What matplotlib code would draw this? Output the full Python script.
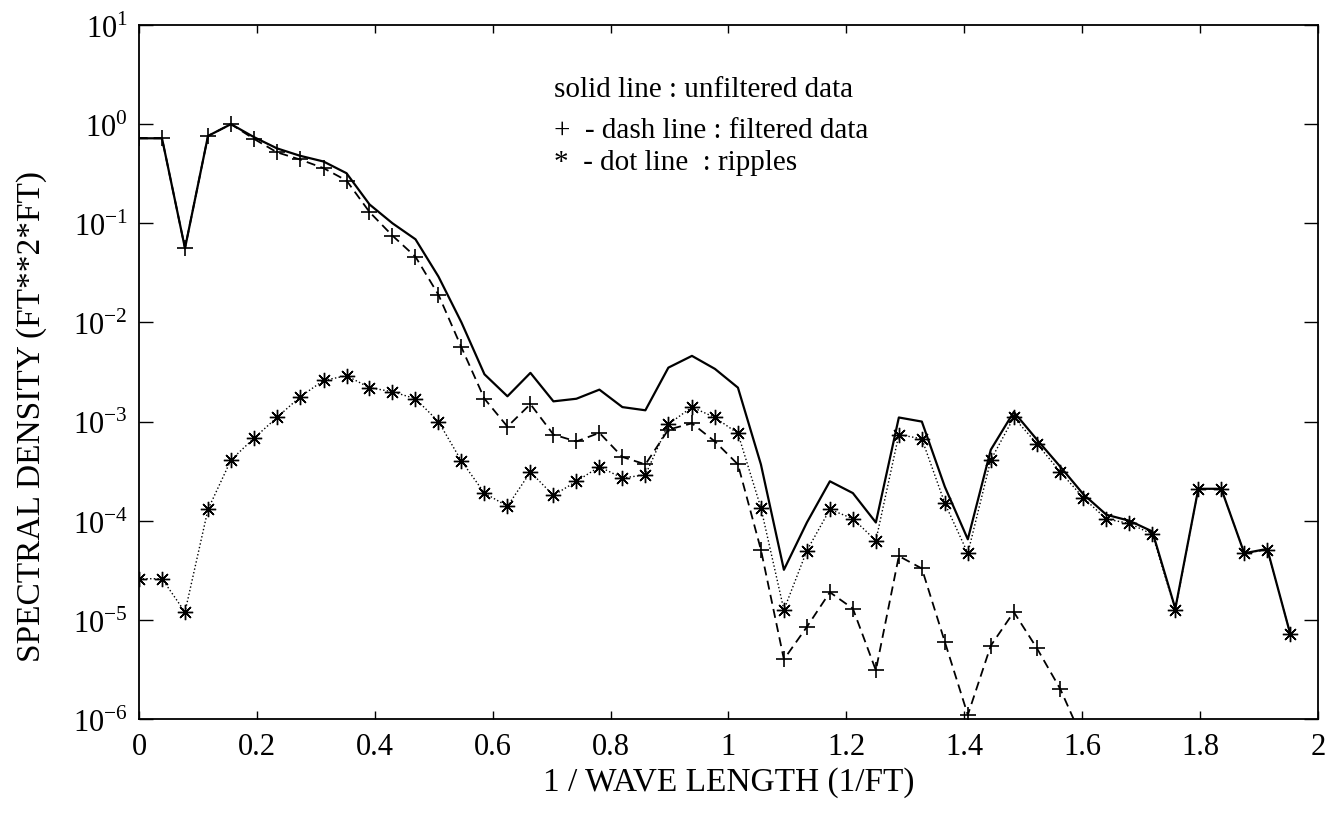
import numpy as np
import matplotlib
matplotlib.use('Agg')
import matplotlib.pyplot as plt

plt.rcParams['font.family'] = 'Liberation Serif'
plt.rcParams['mathtext.fontset'] = 'custom'
plt.rcParams['mathtext.rm'] = 'Liberation Serif'

# spatial frequency (1/FT), sample spacing 1/25.6
freq = [0.000, 0.039, 0.078, 0.117, 0.156, 0.195, 0.234, 0.273, 0.313, 0.352,
        0.391, 0.430, 0.469, 0.508, 0.547, 0.586, 0.625, 0.664, 0.703, 0.742,
        0.781, 0.820, 0.859, 0.898, 0.938, 0.977, 1.016, 1.055, 1.094, 1.133,
        1.172, 1.211, 1.250, 1.289, 1.328, 1.367, 1.406, 1.445, 1.484, 1.523,
        1.563, 1.602, 1.641, 1.680, 1.719, 1.758, 1.797, 1.836, 1.875, 1.914,
        1.953]

unfiltered = [0.72, 0.72, 0.056, 0.76, 1.0, 0.74, 0.57, 0.48, 0.42, 0.32,
              0.155, 0.10, 0.069, 0.029, 0.010, 0.0030, 0.0018, 0.0031, 0.0016, 0.0017,
              0.0021, 0.0014, 0.0013, 0.0035, 0.0046, 0.0034, 0.0022, 3.7e-4, 3.2e-5, 9.6e-5,
              2.5e-4, 1.9e-4, 9.6e-5, 1.1e-3, 1.0e-3, 2.2e-4, 6.5e-5, 5.2e-4, 1.25e-3, 6.6e-4,
              3.5e-4, 1.85e-4, 1.15e-4, 1.0e-4, 7.8e-5, 1.3e-5, 2.1e-4, 2.1e-4, 4.7e-5, 5.2e-5,
              7.2e-6]

filtered = [0.72, 0.72, 0.056, 0.76, 1.0, 0.71, 0.52, 0.44, 0.36, 0.27,
            0.13, 0.075, 0.046, 0.019, 0.0056, 0.0017, 8.9e-4, 0.0015, 7.4e-4, 6.3e-4,
            7.7e-4, 4.4e-4, 3.7e-4, 8.3e-4, 9.6e-4, 6.3e-4, 3.7e-4, 5.1e-5, 4.0e-6, 8.5e-6,
            1.9e-5, 1.3e-5, 3.1e-6, 4.4e-5, 3.3e-5, 6.0e-6, 1.1e-6, 5.5e-6, 1.2e-5, 5.2e-6,
            2.0e-6, 6.0e-7]

ripples = [2.6e-5, 2.6e-5, 1.2e-5, 1.3e-4, 4.1e-4, 6.8e-4, 1.1e-3, 1.77e-3, 2.6e-3, 2.9e-3,
           2.2e-3, 2.0e-3, 1.7e-3, 1.0e-3, 4.0e-4, 1.9e-4, 1.4e-4, 3.1e-4, 1.8e-4, 2.5e-4,
           3.5e-4, 2.7e-4, 2.9e-4, 9.4e-4, 1.4e-3, 1.1e-3, 7.6e-4, 1.35e-4, 1.26e-5, 5.0e-5,
           1.3e-4, 1.05e-4, 6.3e-5, 7.4e-4, 6.7e-4, 1.5e-4, 4.7e-5, 4.1e-4, 1.1e-3, 6.0e-4,
           3.1e-4, 1.7e-4, 1.04e-4, 9.4e-5, 7.3e-5, 1.26e-5, 2.1e-4, 2.1e-4, 4.7e-5, 5.1e-5,
           7.2e-6]

xticks = [0, 0.2, 0.4, 0.6, 0.8, 1, 1.2, 1.4, 1.6, 1.8, 2]
xticklabels = ['0', '0.2', '0.4', '0.6', '0.8', '1', '1.2', '1.4', '1.6', '1.8', '2']
yexp = [-6, -5, -4, -3, -2, -1, 0, 1]

fig = plt.figure(figsize=(13.29, 8.28), dpi=100)
ax = fig.add_axes([0.1046, 0.1304, 0.8871, 0.8382])

ax.plot(freq, unfiltered, 'k-', lw=1.6)
ax.plot(freq[:len(filtered)], filtered, 'k--', lw=1.3, marker='+', ms=11, mew=1.2,
        dashes=(5, 3))
ax.plot(freq, ripples, 'k:', lw=1.0, marker=(8, 2, 0), ms=11, mew=1.0)

ax.set_yscale('log')
ax.set_xlim(0, 2)
ax.set_ylim(1e-6, 1e1)
ax.set_xticks(xticks)
ax.set_xticklabels(xticklabels)
ax.set_yticks([10.0 ** e for e in yexp])
ax.set_yticklabels([r'$10^{%d}$' % e for e in yexp])
ax.minorticks_off()
ax.tick_params(axis='both', direction='in', top=True, right=True, labelsize=22, width=1)
ax.tick_params(axis='x', length=6, pad=9)
ax.tick_params(axis='y', length=10, pad=8)
for s in ax.spines.values():
    s.set_linewidth(1.3)

ax.set_xlabel('1 / WAVE LENGTH (1/FT)', fontsize=24)
ax.xaxis.set_label_coords(0.5, -0.068)
ax.set_ylabel('SPECTRAL DENSITY (FT**2*FT)', fontsize=24)
ax.yaxis.set_label_coords(-0.078, 0.437)

ax.text(0.352, 0.897, 'solid line : unfiltered data', transform=ax.transAxes, fontsize=21)
ax.text(0.352, 0.839, '+  - dash line : filtered data', transform=ax.transAxes, fontsize=21)
ax.text(0.352, 0.793, '*  - dot line  : ripples', transform=ax.transAxes, fontsize=21)

fig.savefig('out.png', dpi=100)
